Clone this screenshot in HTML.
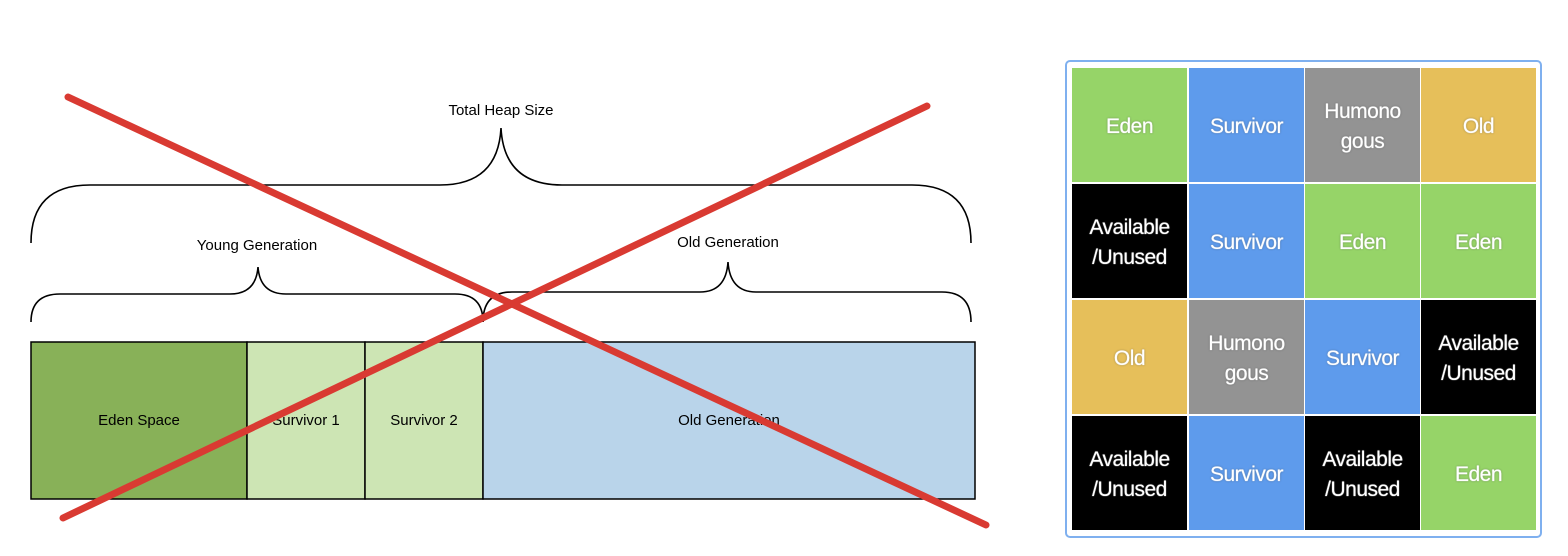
<!DOCTYPE html>
<html><head><style>
body{margin:0;background:#fff;width:1568px;height:556px;overflow:hidden;position:relative;font-family:"Liberation Sans",sans-serif}
.g{position:absolute;left:1065px;top:60px;width:477px;height:478px;border:2px solid #7fb0ef;border-radius:5px;box-sizing:border-box}
.c{position:absolute;width:115px;height:114px;padding-top:4px;box-sizing:border-box;display:flex;align-items:center;justify-content:center;text-align:center;color:#fff;font-size:21px;line-height:30px;letter-spacing:-0.5px;text-shadow:0 0 1px #fff,0 0 2px rgba(0,0,0,.4)}
.G{background:#96d468}.B{background:#5e9bec}.R{background:#939393}.O{background:#e6bf5a}.K{background:#000}
</style></head><body>
<svg width="1000" height="556" style="position:absolute;left:0;top:0" font-family="Liberation Sans, sans-serif" font-size="15">
<rect x="31" y="342" width="216" height="157" fill="#88b158" stroke="#000" stroke-width="1.5"/>
<rect x="247" y="342" width="118" height="157" fill="#cde5b4" stroke="#000" stroke-width="1.5"/>
<rect x="365" y="342" width="118" height="157" fill="#cde5b4" stroke="#000" stroke-width="1.5"/>
<rect x="483" y="342" width="492" height="157" fill="#b9d4ea" stroke="#000" stroke-width="1.5"/>
<g text-anchor="middle" fill="#000">
<text x="139" y="425">Eden Space</text><text x="306" y="425">Survivor 1</text><text x="424" y="425">Survivor 2</text><text x="729" y="425">Old Generation</text>
<text x="501" y="115">Total Heap Size</text><text x="257" y="250">Young Generation</text><text x="728" y="247">Old Generation</text>
</g>
<g fill="none" stroke="#000" stroke-width="1.6">
<path d="M31 243 Q31 185 90 185 L440 185 Q498 185 501 128 Q504 185 562 185 L912 185 Q971 185 971 243"/>
<path d="M31 322 Q31 294 60 294 L230 294 Q256 294 258 267 Q260 294 286 294 L455 294 Q483 294 483 322"/>
<path d="M483 322 Q483 292 512 292 L700 292 Q726 292 728 262 Q730 292 756 292 L942 292 Q971 292 971 322"/>
</g>
<g stroke="#d93a32" stroke-width="7" stroke-linecap="round">
<line x1="68" y1="97" x2="986" y2="525"/><line x1="927" y1="106" x2="63" y2="518"/>
</g>
</svg>
<div class="g"></div>
<div class="c G" style="left:1072px;top:68px">Eden</div>
<div class="c B" style="left:1189px;top:68px">Survivor</div>
<div class="c R" style="left:1305px;top:68px">Humono<br>gous</div>
<div class="c O" style="left:1421px;top:68px">Old</div>
<div class="c K" style="left:1072px;top:184px">Available<br>/Unused</div>
<div class="c B" style="left:1189px;top:184px">Survivor</div>
<div class="c G" style="left:1305px;top:184px">Eden</div>
<div class="c G" style="left:1421px;top:184px">Eden</div>
<div class="c O" style="left:1072px;top:300px">Old</div>
<div class="c R" style="left:1189px;top:300px">Humono<br>gous</div>
<div class="c B" style="left:1305px;top:300px">Survivor</div>
<div class="c K" style="left:1421px;top:300px">Available<br>/Unused</div>
<div class="c K" style="left:1072px;top:416px">Available<br>/Unused</div>
<div class="c B" style="left:1189px;top:416px">Survivor</div>
<div class="c K" style="left:1305px;top:416px">Available<br>/Unused</div>
<div class="c G" style="left:1421px;top:416px">Eden</div>
</body></html>
